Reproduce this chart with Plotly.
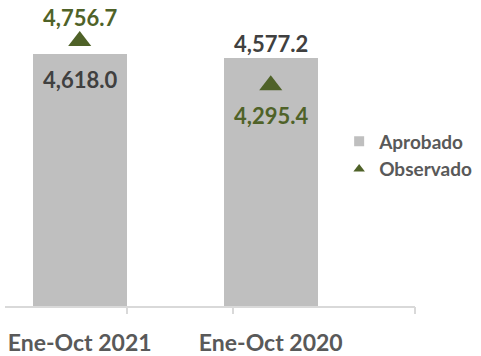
import plotly.graph_objects as go

# Chart data
periods = ["Ene-Oct 2021", "Ene-Oct 2020"]
aprobado = [4618.0, 4577.2]
observado = [4756.7, 4295.4]

GRAY = "#bfbfbf"
GREEN = "#4f6228"
DARK = "#404040"
MID = "#595959"
FONT = "Lato"

fig = go.Figure()

fig.add_trace(go.Bar(
    x=periods, y=aprobado, name="Aprobado",
    marker=dict(color=GRAY, line=dict(width=0)),
    width=0.49, showlegend=False,
))

fig.add_trace(go.Scatter(
    x=periods, y=observado, name="Observado", mode="markers",
    marker=dict(symbol="triangle-up", size=20, color=GREEN, line=dict(width=0)),
    showlegend=False, cliponaxis=False,
))

# Legend entries
fig.add_trace(go.Scatter(
    x=[None], y=[None], name="Aprobado", mode="markers",
    marker=dict(symbol="square", size=10, color=GRAY),
))
fig.add_trace(go.Scatter(
    x=[None], y=[None], name="Observado", mode="markers",
    marker=dict(symbol="triangle-up", size=10, color=GREEN),
))

# Value labels
bar_label_shift = [-25, 15]
obs_label_shift = [23, -30]
annotations = []
for p, v, s in zip(periods, aprobado, bar_label_shift):
    annotations.append(dict(
        x=p, y=v, text=f"{v:,.1f}", showarrow=False, yanchor="middle", yshift=s,
        font=dict(family=FONT, size=22, color=DARK, weight="bold"),
    ))
for p, v, s in zip(periods, observado, obs_label_shift):
    annotations.append(dict(
        x=p, y=v, text=f"{v:,.1f}", showarrow=False, yanchor="middle", yshift=s,
        font=dict(family=FONT, size=22, color=GREEN, weight="bold"),
    ))

x_range = [-0.391, 1.755]

fig.update_layout(
    width=481, height=356,
    margin=dict(l=5, r=66, t=0, b=46),
    paper_bgcolor="white", plot_bgcolor="white",
    font=dict(family=FONT, color=MID),
    annotations=annotations,
    xaxis=dict(
        type="category", range=x_range, showgrid=False, zeroline=False,
        showline=True, linecolor="#d9d9d9", linewidth=1.5,
        ticks="", ticklabelstandoff=16,
        tickfont=dict(family=FONT, size=23, color=MID, weight="bold"),
    ),
    xaxis2=dict(
        overlaying="x", anchor="y", side="bottom", range=x_range,
        tickvals=[0.248, 0.803, 1.754], showticklabels=False,
        ticks="outside", ticklen=7, tickcolor="#d9d9d9", tickwidth=1.5,
        showgrid=False, zeroline=False, showline=False,
    ),
    yaxis=dict(range=[2000, 5183], visible=False),
    legend=dict(
        x=0.815, y=0.492, xanchor="left", yanchor="middle",
        font=dict(family=FONT, size=19, color=MID, weight="bold"),
        bgcolor="rgba(0,0,0,0)", tracegroupgap=0, itemwidth=30,
    ),
    bargap=0,
)

# Empty trace so the secondary x axis (tick marks) gets drawn
fig.add_trace(go.Scatter(x=[None], y=[None], xaxis="x2", showlegend=False,
                         hoverinfo="skip"))

fig.write_html("out.html")
